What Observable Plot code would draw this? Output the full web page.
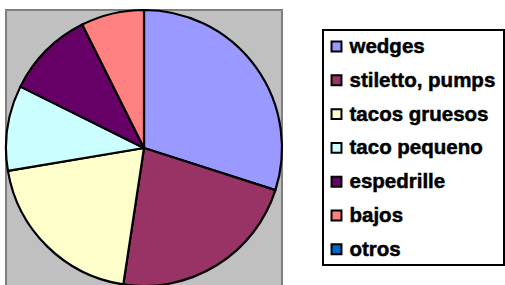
<!DOCTYPE html>
<html>
<head>
<meta charset="utf-8">
<script src="https://cdn.jsdelivr.net/npm/d3@7"></script>
<script src="https://cdn.jsdelivr.net/npm/@observablehq/plot@0.6"></script>
<style>
  html, body { margin: 0; padding: 0; background: #fff; }
  #chart svg { display: block; }
</style>
</head>
<body>
<div id="chart"></div>
<script>
// Data (shares in percent)
const categories = ["wedges", "stiletto, pumps", "tacos gruesos", "taco pequeno", "espedrille", "bajos", "otros"];
const values = [30, 22.5, 20, 10, 10.3, 7.4, 0];
const colors = ["#9999FF", "#993366", "#FFFFCC", "#CCFFFF", "#660066", "#FF8080", "#0066CC"];

const data = categories.map((name, i) => ({name, value: values[i]}));

// Layout constants
const W = 505, H = 285;
const pie = {cx: 144, cy: 148, r: 138};
const legend = {x1: 323, y1: 30, x2: 504, y2: 265, swatchX: 336, textX: 349, rowY0: 46, rowStep: 33.8};

const pieMark = (index, scales) => {
  const color = (scales && scales.color) ? scales.color : d3.scaleOrdinal(categories, colors);
  const g = d3.create("svg:g").attr("transform", `translate(${pie.cx},${pie.cy})`);
  const arcs = d3.pie().sort(null).value(d => d.value)(data).filter(a => a.data.value > 0);
  const arc = d3.arc().innerRadius(0).outerRadius(pie.r);
  g.selectAll("path")
    .data(arcs)
    .join("path")
    .attr("d", arc)
    .attr("fill", d => color(d.data.name))
    .attr("stroke", "#000")
    .attr("stroke-width", 2.2)
    .attr("stroke-linejoin", "round");
  return g.node();
};

const chart = Plot.plot({
  width: W,
  height: H,
  margin: 0,
  x: {type: "identity", axis: null},
  y: {type: "identity", axis: null},
  color: {domain: categories, range: colors},
  style: {fontFamily: "'Liberation Sans', Arial, sans-serif", background: "#fff"},
  marks: [
    // plot area background
    Plot.rect([0], {x1: 6, x2: 282, y1: 10, y2: 300, fill: "#C0C0C0", stroke: "#808080", strokeWidth: 2}),
    pieMark,
    // legend box
    Plot.rect([0], {x1: legend.x1, x2: legend.x2, y1: legend.y1, y2: legend.y2, fill: "#fff", stroke: "#000", strokeWidth: 2}),
    Plot.dot(data, {
      x: () => legend.swatchX,
      y: (d, i) => legend.rowY0 + i * legend.rowStep,
      symbol: "square",
      r: 5.6,
      fill: "name",
      stroke: "#000",
      strokeWidth: 2
    }),
    Plot.text(data, {
      x: () => legend.textX,
      y: (d, i) => legend.rowY0 + i * legend.rowStep,
      text: "name",
      textAnchor: "start",
      fontWeight: "bold",
      fontSize: 20.5,
      fill: "#000",
      stroke: "#000",
      strokeWidth: 0.5,
      paintOrder: "normal"
    })
  ]
});

document.getElementById("chart").append(chart);
</script>
</body>
</html>
